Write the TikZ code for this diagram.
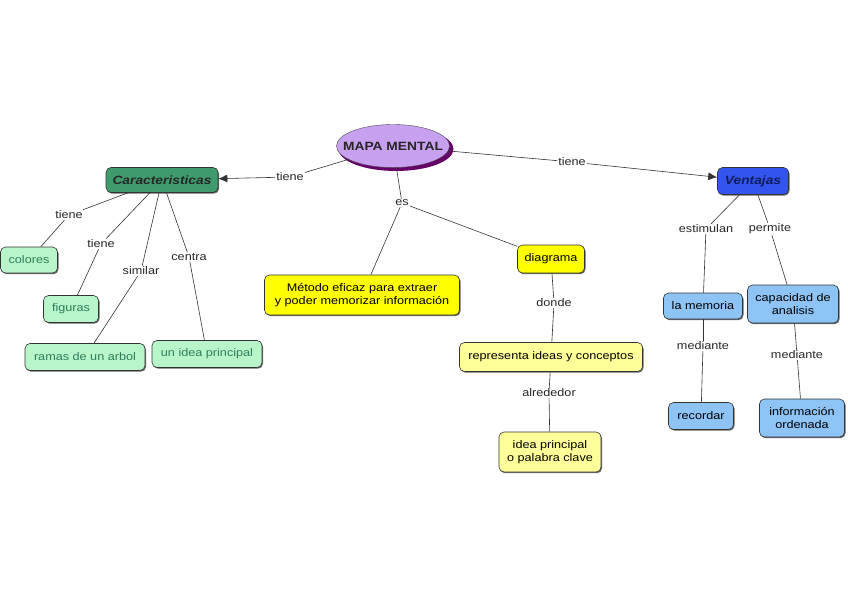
\documentclass[tikz,border=0pt]{standalone}
\usepackage{fontspec}
\setmainfont{Liberation Sans}[FakeStretch=1.15]
\usetikzlibrary{shapes.geometric,arrows.meta}
\definecolor{lav}{HTML}{C8A0F0}
\definecolor{shad}{HTML}{660066}
\definecolor{dgreen}{HTML}{3F9B6B}
\definecolor{lgreen}{HTML}{B9F5CB}
\definecolor{gtext}{HTML}{2E7D5A}
\definecolor{vblue}{HTML}{3355EE}
\definecolor{navy}{HTML}{101C5C}
\definecolor{lblue}{HTML}{8EC3F5}
\definecolor{yel}{HTML}{FFFF00}
\definecolor{lyel}{HTML}{FFFF99}
\tikzset{
  box/.style={draw=black!80, line width=0.6pt, rounded corners=5pt, align=center,
    inner xsep=4pt, inner ysep=3pt, font=\fontsize{11}{12.5}\selectfont,
    preaction={fill=black!60, transform canvas={xshift=1pt,yshift=-1.2pt}}},
  gbox/.style={box, fill=lgreen, text=gtext},
  bbox/.style={box, fill=lblue, text=black},
  ybox/.style={box, fill=yel},
  lybox/.style={box, fill=lyel},
  lbl/.style={inner sep=1pt, font=\fontsize{11}{12}\selectfont, text=black!85},
  conn/.style={draw=black!80, line width=0.6pt},
  arr/.style={conn, -{Latex[length=9pt,width=8pt]}}
}
\begin{document}
\begin{tikzpicture}[x=1pt,y=-1pt]
\useasboundingbox (0,0) rectangle (848,599);
% central ellipse
\fill[shad] (396,149) ellipse (57.5pt and 22pt);
\node[ellipse, draw=black!70, fill=lav, minimum width=113pt, minimum height=43pt, inner xsep=-14pt, inner ysep=0pt,
  font=\bfseries\fontsize{12}{13}\selectfont, text=black!85] (mapa) at (393,146) {MAPA MENTAL};
% main nodes
\node[box, fill=dgreen, minimum width=112pt, minimum height=25pt, text=black!85,
  font=\bfseries\itshape\fontsize{12}{13}\selectfont] (car) at (162,180) {Caracteristicas};
\node[box, fill=vblue, minimum width=71pt, minimum height=27pt, text=navy,
  font=\bfseries\itshape\fontsize{12}{13}\selectfont] (ven) at (753,181) {Ventajas};
% left children
\node[gbox, minimum width=57pt, minimum height=26pt] (col) at (29,260) {colores};
\node[gbox, minimum width=55pt, minimum height=27pt] (fig) at (71,309) {figuras};
\node[gbox, minimum width=120pt, minimum height=27pt] (ram) at (85,357) {ramas de un arbol};
\node[gbox, minimum width=110pt, minimum height=27pt] (uip) at (207,354) {un idea principal};
% middle
\node[ybox, minimum width=195pt, minimum height=40pt] (met) at (362,295) {Método eficaz para extraer\\y poder memorizar información};
\node[ybox, minimum width=67pt, minimum height=28pt] (dia) at (551,259) {diagrama};
\node[lybox, minimum width=183pt, minimum height=29pt] (rep) at (551,357) {representa ideas y conceptos};
\node[lybox, minimum width=102pt, minimum height=40pt] (ipc) at (550,452) {idea principal\\o palabra clave};
% right
\node[bbox, minimum width=79pt, minimum height=26pt] (mem) at (703,306) {la memoria};
\node[bbox, minimum width=91pt, minimum height=38pt] (cap) at (793,304) {capacidad de\\analisis};
\node[bbox, minimum width=65pt, minimum height=27pt] (rec) at (701,416) {recordar};
\node[bbox, minimum width=85pt, minimum height=38pt] (inf) at (802,418) {información\\ordenada};
% labels
\node[lbl] (l1) at (290,177) {tiene};
\node[lbl] (l2) at (572,162) {tiene};
\node[lbl] (l3) at (402,203) {es};
\node[lbl] (l4) at (69,215) {tiene};
\node[lbl] (l5) at (101,244) {tiene};
\node[lbl] (l6) at (141,271) {similar};
\node[lbl] (l7) at (189,257) {centra};
\node[lbl] (l8) at (554,303) {donde};
\node[lbl] (l9) at (549,393) {alrededor};
\node[lbl] (l10) at (706,229) {estimulan};
\node[lbl] (l11) at (770,229) {permite};
\node[lbl] (l12) at (703,346) {mediante};
\node[lbl] (l13) at (797,355) {mediante};
% connectors
\draw[conn] (mapa) -- (l1);
\draw[arr] (l1) -- (car);
\draw[conn] (mapa) -- (l2);
\draw[arr] (l2) -- (ven);
\draw[conn] (mapa) -- (l3);
\draw[conn] (l3) -- (met);
\draw[conn] (l3) -- (dia);
\draw[conn] (car) -- (l4); \draw[conn] (l4) -- (col);
\draw[conn] (car) -- (l5); \draw[conn] (l5) -- (fig);
\draw[conn] (car) -- (l6); \draw[conn] (l6) -- (ram);
\draw[conn] (car) -- (l7); \draw[conn] (l7) -- (uip);
\draw[conn] (dia) -- (l8); \draw[conn] (l8) -- (rep);
\draw[conn] (rep) -- (l9); \draw[conn] (l9) -- (ipc);
\draw[conn] (ven) -- (l10); \draw[conn] (l10) -- (mem);
\draw[conn] (ven) -- (l11); \draw[conn] (l11) -- (cap);
\draw[conn] (mem) -- (l12); \draw[conn] (l12) -- (rec);
\draw[conn] (cap) -- (l13); \draw[conn] (l13) -- (inf);
\end{tikzpicture}
\end{document}
